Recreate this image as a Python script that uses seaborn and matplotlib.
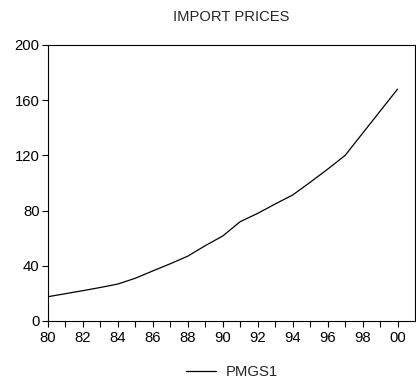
import matplotlib
matplotlib.use("Agg")
import matplotlib.pyplot as plt
import seaborn as sns
import pandas as pd

years = list(range(1980, 2001))
pmgs1 = [17.6, 19.8, 22.0, 24.3, 26.8, 31.0, 36.3, 41.5, 47.0, 54.6, 61.6,
         72.0, 78.0, 84.8, 91.3, 100.5, 110.0, 120.0, 136.0, 152.0, 168.0]
x_tick_years = list(range(1980, 2001, 2))
x_tick_labels = ["80", "82", "84", "86", "88", "90", "92", "94", "96", "98", "00"]
y_ticks = [0, 40, 80, 120, 160, 200]
title = "IMPORT PRICES"
series_name = "PMGS1"

df = pd.DataFrame({"year": years, series_name: pmgs1})

sns.set_theme(style="ticks")
plt.rcParams["font.family"] = ["Liberation Sans", "DejaVu Sans"]

fig = plt.figure(figsize=(4.16, 3.85), dpi=100)
ax = fig.add_axes([48 / 416, (385 - 321) / 385, (415 - 48) / 416, (321 - 45) / 385])

sns.lineplot(data=df, x="year", y=series_name, ax=ax, color="black",
             linewidth=0.9, label=series_name, legend=False)

ax.set_xlim(1980, 2001)
ax.set_ylim(0, 200)
ax.set_xticks(years, minor=True)
ax.set_xticks(x_tick_years)
ax.set_xticklabels(x_tick_labels)
ax.set_yticks(y_ticks)
ax.tick_params(axis="both", which="both", direction="out", length=4.5,
               width=0.8, colors="black", labelsize=10.7, pad=1.5)
ax.tick_params(axis="x", which="major", pad=3)
for s in ax.spines.values():
    s.set_visible(True)
    s.set_linewidth(0.8)
    s.set_color("black")
ax.set_xlabel("")
ax.set_ylabel("")
ax.set_title(title, fontsize=10.6, pad=17)

handles, labels = ax.get_legend_handles_labels()
fig.legend(handles, labels, loc="center", bbox_to_anchor=(232 / 416, 1 - 372 / 385),
           frameon=False, fontsize=10.7, handlelength=2.0, handletextpad=0.7)

fig.savefig("out.png", dpi=100)
